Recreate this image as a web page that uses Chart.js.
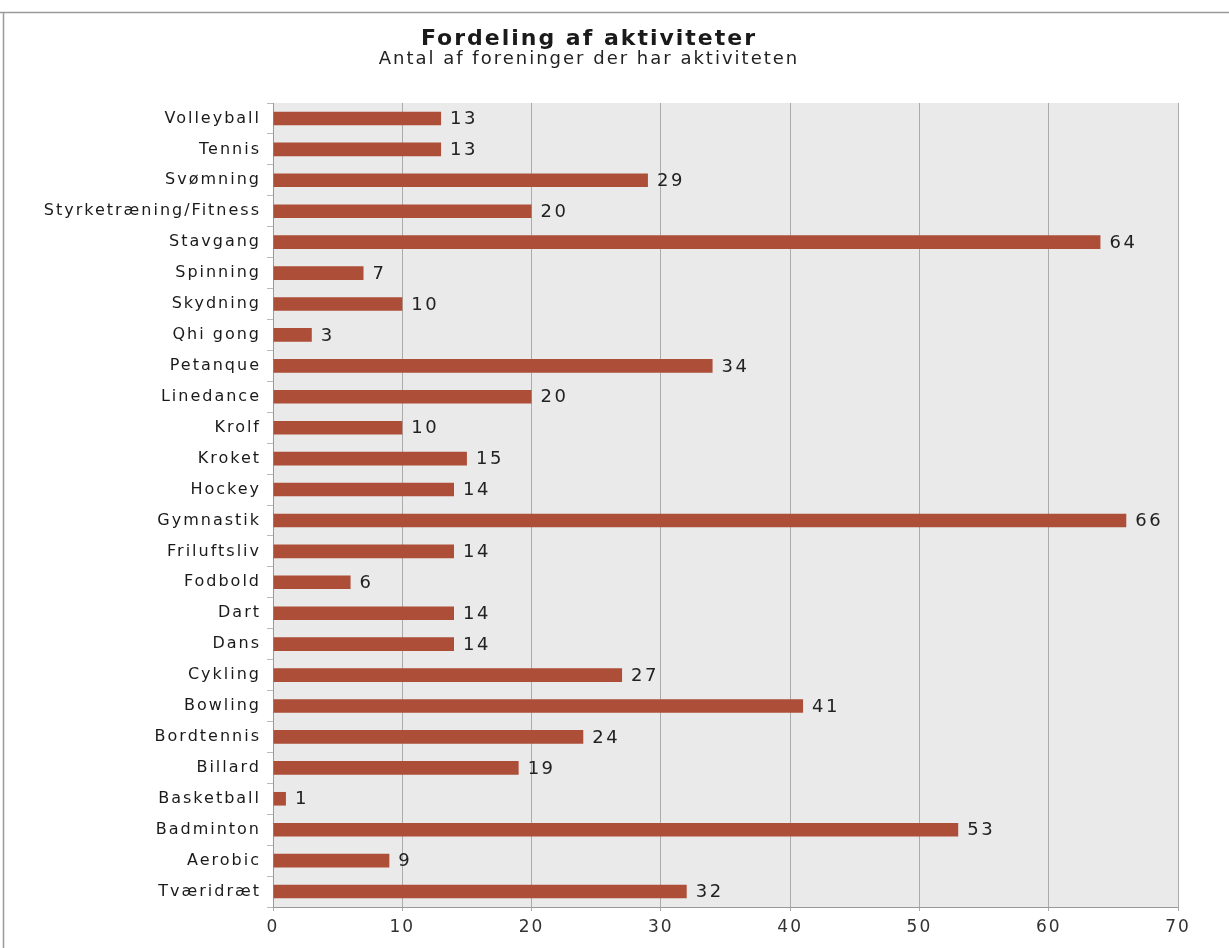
<!DOCTYPE html>
<html>
<head>
<meta charset="utf-8">
<script src="https://cdn.jsdelivr.net/npm/chart.js@4"></script>
<style>
  html, body { margin: 0; padding: 0; background: #fff; }
  #wrap { width: 1229px; height: 948px; position: relative; }
</style>
</head>
<body>
<div id="wrap"><canvas id="chart"></canvas></div>
<script>
const categories = [
  "Volleyball", "Tennis", "Svømning", "Styrketræning/Fitness", "Stavgang",
  "Spinning", "Skydning", "Qhi gong", "Petanque", "Linedance", "Krolf",
  "Kroket", "Hockey", "Gymnastik", "Friluftsliv", "Fodbold", "Dart", "Dans",
  "Cykling", "Bowling", "Bordtennis", "Billard", "Basketball", "Badminton",
  "Aerobic", "Tværidræt"
];
const counts = [
  13, 13, 29, 20, 64, 7, 10, 3, 34, 20, 10, 15, 14, 66, 14, 6, 14, 14,
  27, 41, 24, 19, 1, 53, 9, 32
];
const xTicks = [0, 10, 20, 30, 40, 50, 60, 70];

const barColor = "#ad4e38";

// light gray plot background, page frame lines, value labels
const backdrop = {
  id: "backdrop",
  beforeDraw(chart) {
    const { ctx, chartArea: a } = chart;
    ctx.save();
    ctx.fillStyle = "#fff";
    ctx.fillRect(0, 0, chart.width, chart.height);
    ctx.strokeStyle = "#9a9a9a";
    ctx.lineWidth = 1.5;
    ctx.beginPath();
    ctx.moveTo(0, 12.5); ctx.lineTo(chart.width, 12.5);
    ctx.moveTo(3.5, 12); ctx.lineTo(3.5, chart.height);
    ctx.stroke();
    ctx.fillStyle = "#eaeaea";
    ctx.fillRect(a.left, a.top, a.right - a.left, a.bottom - a.top);
    ctx.restore();
    // the printed original is set a bit loose
    ctx.letterSpacing = "2px";
  },
  afterDatasetsDraw(chart) {
    const { ctx } = chart;
    const meta = chart.getDatasetMeta(0);
    ctx.save();
    ctx.letterSpacing = "2.5px";
    ctx.font = "18px 'DejaVu Sans'";
    ctx.fillStyle = "#222";
    ctx.textBaseline = "middle";
    meta.data.forEach((bar, i) => {
      ctx.fillText(String(counts[i]), bar.x + 9, bar.y + 1);
    });
    ctx.restore();
  }
};

new Chart(document.getElementById("chart"), {
  type: "bar",
  data: {
    labels: categories,
    datasets: [{
      data: counts,
      backgroundColor: barColor,
      barPercentage: 0.44,
      categoryPercentage: 1
    }]
  },
  options: {
    indexAxis: "y",
    responsive: true,
    maintainAspectRatio: false,
    animation: false,
    layout: { padding: { left: 0, right: 51, top: 0, bottom: 0 } },
    plugins: {
      legend: { display: false },
      tooltip: { enabled: false },
      title: {
        display: true,
        text: "Fordeling af aktiviteter",
        color: "#1a1a1a",
        font: { family: "'DejaVu Sans'", size: 22, weight: "bold", lineHeight: 1 },
        padding: { top: 28, bottom: 0 }
      },
      subtitle: {
        display: true,
        text: "Antal af foreninger der har aktiviteten",
        color: "#222",
        font: { family: "'DejaVu Sans'", size: 18, lineHeight: 1 },
        padding: { top: 0, bottom: 35 }
      }
    },
    scales: {
      x: {
        min: 0,
        max: 70,
        afterBuildTicks(scale) { scale.ticks = xTicks.map(v => ({ value: v })); },
        afterFit(scale) { scale.height = 41; },
        grid: { color: "#ababab", lineWidth: 1, tickLength: 4 },
        border: { color: "#999" },
        ticks: {
          color: "#333",
          padding: 6,
          font: { family: "'DejaVu Sans'", size: 17 }
        }
      },
      y: {
        afterFit(scale) { scale.width = 273; },
        grid: { drawOnChartArea: false, color: "#bbb", tickLength: 6 },
        border: { color: "#999" },
        ticks: {
          color: "#1a1a1a",
          padding: 6,
          autoSkip: false,
          font: { family: "'DejaVu Sans'", size: 16 }
        }
      }
    }
  },
  plugins: [backdrop]
});
</script>
</body>
</html>
